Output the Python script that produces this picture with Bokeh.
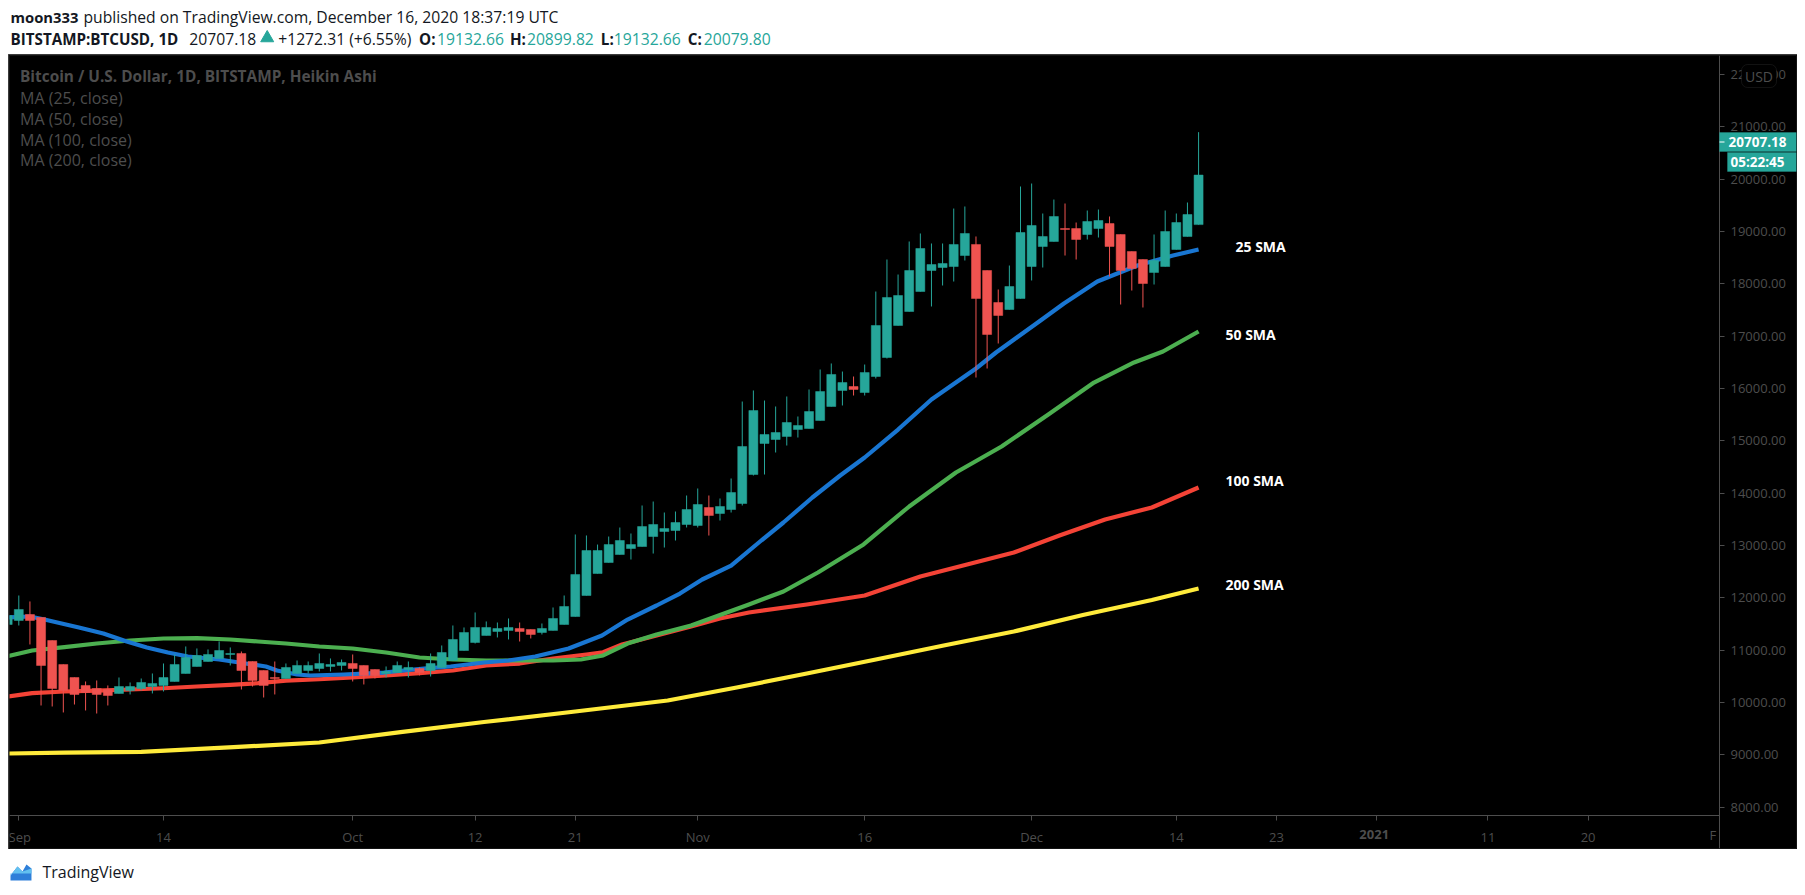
from bokeh.plotting import figure
from bokeh.layouts import column
from bokeh.models import (Range1d, FixedTicker, Label, BoxAnnotation)
from bokeh.core.properties import value
from bokeh.embed import file_html
from bokeh.resources import INLINE

# ---- OHLC (Heikin Ashi) for BTCUSD, bar index 0 = 1 Sep 2020
bar_index = list(range(-1, 107))
open_ = [11491,11568,11682,11625,11185,10727,10478,10326,10268,10249,10173,10230,10268,10306,10326,10402,10555,10689,10784,10842,10918,10937,10784,10612,10478,10459,10555,10612,10650,10689,10708,10746,10708,10631,10555,10574,10631,10650,10612,10670,10803,10994,11147,11281,11357,11377,11415,11396,11338,11377,11491,11643,12045,12465,12675,12828,12943,12981,13172,13268,13287,13402,13383,13727,13612,13688,13803,14357,14950,15026,15084,15217,15236,15389,15657,15963,16039,15924,16230,16593,17205,17472,17854,18256,18313,18332,18542,18753,18256,17644,17510,17721,18332,18714,18810,19058,19058,18944,19058,19154,18944,18619,18466,18218,18332,18657,18905,19132.66]
high = [11663,12045,11931,11631,11185,10727,10478,10402,10421,10326,10478,10383,10459,10555,10746,10918,11071,11033,11014,11166,11052,10975,10784,10612,10784,10746,10803,10784,10937,10842,10822,10918,10708,10631,10689,10784,10784,10670,10937,11090,11472,11434,11721,11549,11529,11606,11529,11396,11510,11816,12045,13211,13192,13019,13172,13344,13230,13765,13841,13631,13650,13956,14090,13956,13899,14281,15752,15963,15771,15657,15848,15466,15982,16364,16479,16325,16230,16459,17854,18466,18179,18810,18963,18772,18772,19440,19479,18906,18256,17893,18351,19861,19918,19345,19612,19536,19173,19402,19421,19288,18944,18619,18466,18944,19402,19345,19555,20899.82]
low = [11491,11472,11109,9943,9924,9810,9962,9848,9790,9943,10173,10154,10230,10173,10211,10402,10555,10689,10784,10842,10708,10249,10306,10096,10154,10459,10555,10555,10593,10593,10612,10402,10345,10459,10478,10574,10478,10517,10497,10670,10803,10994,11128,11281,11243,11205,11166,11224,11300,11377,11491,11643,12045,12465,12675,12828,12733,12981,12847,12962,13096,13345,13345,13191,13478,13631,13765,14338,14357,14778,14911,15064,15236,15389,15657,15676,15867,15867,16192,16574,17205,17472,17854,17568,17969,18045,18447,16211,16383,16861,17510,17721,18065,18313,18810,18542,18466,18848,18886,18141,17606,17873,17549,17988,18332,18657,18905,19132.66]
close = [11663,11778,11568,10708,10268,10230,10154,10192,10154,10134,10306,10306,10383,10364,10478,10727,10861,10899,10918,10994,10937,10612,10421,10326,10459,10670,10708,10708,10746,10727,10765,10650,10517,10517,10593,10708,10670,10574,10746,10956,11205,11338,11434,11434,11415,11434,11357,11300,11415,11606,11835,12446,12905,12905,13019,13096,13019,13363,13402,13325,13440,13688,13784,13574,13746,14013,14892,15580,15122,15160,15351,15294,15561,15943,16269,16115,15982,16306,17205,17740,17778,18256,18676,18370,18390,18753,18963,17721,17033,17396,17950,18982,19116,18905,19288,19039,18848,19192,19211,18714,18256,18294,18007,18447,19001,19173,19326,20079.80]

# ---- Moving averages, read at the listed bar positions
ma25_x = [-1,1,2.3,5.4,7.6,9.7,11.5,13.4,15.2,18,19.8,22.2,23.2,25,26.2,29.2,32.8,36.4,38.8,41.8,44,46.4,49.4,52.4,54.7,57.3,59.4,61.4,64,66.6,68.7,71.3,73.8,76,79,82,86,87.8,89.3,91.8,93.9,96.9,100.5,103.7,106]
ma25_y = [11625,11644,11586,11433,11319,11166,11051,10956,10879,10822,10765,10688,10612,10535,10516,10535,10573,10650,10688,10765,10803,10879,11032,11281,11586,11854,12083,12351,12618,13077,13440,13918,14338,14682,15217,15791,16383,16689,16918,17300,17625,18045,18351,18542,18657]
ma50_x = [-1,1.2,4.1,7,10,13,16,19,21.5,24,27,30,33,36,39,42,45,48,50.5,52.5,54.7,57.3,60.4,63,65.6,68.7,71.8,75.9,80,84.2,88.3,92.5,96.6,100.2,102.8,106]
ma50_y = [10885,10994,11057,11128,11185,11223,11229,11204,11166,11128,11070,11032,10956,10860,10822,10803,10803,10803,10822,10899,11127,11300,11471,11672,11873,12122,12485,13020,13746,14396,14892,15504,16115,16498,16708,17090]
ma100_x = [-1,1.2,4.1,7,10,13,16,19,21.5,24,27,30,33,36,39,42,45,48,51,52.5,54.2,57.3,60.4,63,65.6,70.8,76,81,85.2,89.4,93.5,97.6,101.8,106]
ma100_y = [10115,10178,10210,10229,10249,10273,10306,10338,10369,10420,10445,10478,10516,10560,10612,10707,10745,10841,10918,10961,11108,11280,11452,11605,11720,11873,12045,12408,12638,12867,13192,13497,13727,14109]
ma200_x = [-1,4.1,11,19.3,27,34.3,41.8,50,58.3,64.5,70.8,77,83.1,89.4,95.6,101.8,106]
ma200_y = [9025,9044,9058,9146,9236,9433,9627,9828,10038,10287,10554,10822,11089,11357,11672,11959,12179]

# ---- Tick labels and texts
price_ticks = [8000,9000,10000,11000,12000,13000,14000,15000,16000,17000,18000,19000,20000,21000,22000]
date_ticks = {0:"Sep",13:"14",30:"Oct",41:"12",50:"21",61:"Nov",76:"16",91:"Dec",104:"14",113:"23",122:" ",132:"11",141:"20"}
legend_lines = ["MA (25, close)","MA (50, close)","MA (100, close)","MA (200, close)"]
sma_names = ["25 SMA","50 SMA","100 SMA","200 SMA"]

FONT = "Open Sans"
TEAL, RED = "#26a69a", "#ef5350"
DIM = "#4d4d4d"
W = 1789

# pixel (page) <-> data helpers, used only to place annotations
def xd(px): return (px - 18.3) / 11.13
def yd(py): return 23415.5 - 19.11 * py

# ---------- header
head = figure(width=W, height=54, output_backend="svg", toolbar_location=None,
              x_range=Range1d(8, 8 + W), y_range=Range1d(54, 0),
              min_border=0, outline_line_color=None, background_fill_color="white",
              border_fill_color="white")
head.axis.visible = False
head.grid.visible = False
def htext(x, y, s, bold=False, color="#131722", size="15.7px"):
    head.text([x], [y], text=[s], text_font=value(FONT), text_font_size=size,
              text_font_style="bold" if bold else "normal", text_color=color,
              text_baseline="middle", text_align="left")
htext(9, 16.5, "moon333", True, size="14.8px")
htext(82, 16.5, "published on TradingView.com, December 16, 2020 18:37:19 UTC")
htext(9, 38.5, "BITSTAMP:BTCUSD, 1D", True, size="15.2px")
htext(188, 38.5, "20707.18")
head.scatter([266], [37.5], marker="triangle", size=13, color=TEAL)
htext(277, 38.5, "+1272.31 (+6.55%)")
htext(418, 38.5, "O:", True, size="15.2px")
htext(436, 38.5, "19132.66", color=TEAL)
htext(509, 38.5, "H:", True, size="15.2px")
htext(526, 38.5, "20899.82", color=TEAL)
htext(600, 38.5, "L:", True, size="15.2px")
htext(613, 38.5, "19132.66", color=TEAL)
htext(687, 38.5, "C:", True, size="15.2px")
htext(703, 38.5, "20079.80", color=TEAL)

# ---------- chart: the frame fills the black pane, the axes sit at fixed places inside it
p = figure(width=W, height=795, output_backend="svg", toolbar_location=None,
           x_range=Range1d(xd(9), xd(1796)), y_range=Range1d(yd(848), yd(55)),
           min_border_left=1, min_border_right=1, min_border_top=1, min_border_bottom=1,
           background_fill_color="black", border_fill_color="black",
           outline_line_color=None, x_axis_location="below", y_axis_location="right")
p.grid.visible = False
p.styles = {"outline": "2px solid #4f4f4f", "outline-offset": "-2px"}

yaxis = p.yaxis[0]
yaxis.ticker = FixedTicker(ticks=price_ticks)
yaxis.major_label_overrides = {t: f"{t}.00" for t in price_ticks}
yaxis.fixed_location = xd(1719)
yaxis.bounds = (yd(848), yd(55))
xaxis = p.xaxis[0]
xaxis.ticker = FixedTicker(ticks=list(date_ticks))
xaxis.major_label_overrides = dict(date_ticks)
xaxis.fixed_location = yd(815)
xaxis.bounds = (xd(9), xd(1719))
for ax in (xaxis, yaxis):
    ax.axis_line_color = DIM
    ax.major_tick_line_color = DIM
    ax.major_tick_in = 0
    ax.major_tick_out = 5
    ax.minor_tick_line_color = None
    ax.major_label_text_color = DIM
    ax.major_label_text_font = FONT
    ax.major_label_text_font_size = "13px"
xaxis.major_label_standoff = 7
yaxis.major_label_standoff = 6

for xs, ys, col in ((ma200_x, ma200_y, "#ffeb3b"), (ma100_x, ma100_y, "#f44336"),
                    (ma50_x, ma50_y, "#4caf50"), (ma25_x, ma25_y, "#1976d2")):
    p.line(xs, ys, line_color=col, line_width=4.2, line_join="round")

colors = [TEAL if c >= o else RED for o, c in zip(open_, close)]
p.segment(bar_index, high, bar_index, low, line_color=colors, line_width=1)
p.vbar(x=bar_index, width=0.81, top=[max(o, c) for o, c in zip(open_, close)],
       bottom=[min(o, c) for o, c in zip(open_, close)], fill_color=colors, line_color=colors, line_width=0.5)

# pane legend
p.text([xd(19.5)], [yd(76)], text=["Bitcoin / U.S. Dollar, 1D, BITSTAMP, Heikin Ashi"], text_font=value(FONT),
       text_font_size="15.4px", text_font_style="bold", text_color=DIM, text_baseline="middle")
p.text([xd(19.5)] * 4, [yd(97), yd(118), yd(139), yd(159)], text=legend_lines, text_font=value(FONT),
       text_font_size="16px", text_color=DIM, text_baseline="middle")

# SMA annotations
p.text([xd(1235), xd(1225), xd(1225), xd(1225)], [yd(246), yd(334), yd(480), yd(584)], text=sma_names,
       text_font=value(FONT), text_font_size="14px", text_font_style="bold", text_color="white",
       text_baseline="middle")

# labels over the axes
p.add_layout(Label(x=xd(1373.7), y=yd(834), text="2021", text_font=FONT, text_font_size="13px",
                   text_font_style="bold", text_color=DIM, text_align="center", text_baseline="middle"))
p.add_layout(Label(x=xd(1709), y=yd(834), text="F", text_font=FONT, text_font_size="13px",
                   text_color=DIM, text_align="left", text_baseline="middle"))
p.add_layout(BoxAnnotation(left=xd(1741), right=xd(1776), top=yd(64), bottom=yd(87), fill_color="black",
                           fill_alpha=1, line_color="#3c3c3c", line_width=1, border_radius=6))
p.add_layout(Label(x=xd(1758.5), y=yd(75.5), text="USD", text_font=FONT, text_font_size="14px",
                   text_color=DIM, text_align="center", text_baseline="middle"))
p.add_layout(BoxAnnotation(left=xd(1719), right=xd(1796), top=yd(132), bottom=yd(151), fill_color=TEAL,
                           fill_alpha=1, line_color=TEAL))
p.add_layout(BoxAnnotation(left=xd(1719), right=xd(1724), top=yd(141), bottom=yd(142), fill_color="white",
                           fill_alpha=1, line_color=None))
p.add_layout(Label(x=xd(1757), y=yd(141.5), text="20707.18", text_font=FONT, text_font_size="13.5px",
                   text_font_style="bold", text_color="white", text_align="center", text_baseline="middle"))
p.add_layout(BoxAnnotation(left=xd(1727), right=xd(1796), top=yd(152), bottom=yd(171), fill_color=TEAL,
                           fill_alpha=1, line_color=TEAL))
p.add_layout(Label(x=xd(1757), y=yd(161.5), text="05:22:45", text_font=FONT, text_font_size="13.5px",
                   text_font_style="bold", text_color="white", text_align="center", text_baseline="middle"))

# ---------- footer
foot = figure(width=W, height=38, output_backend="svg", toolbar_location=None,
              x_range=Range1d(8, 8 + W), y_range=Range1d(887, 849),
              min_border=0, outline_line_color=None, background_fill_color="white",
              border_fill_color="white")
foot.axis.visible = False
foot.grid.visible = False
foot.patch([9, 16, 21, 25, 30, 30, 9], [875, 866, 871, 864, 868, 880, 880], fill_color="#2e7fd9", line_color=None)
foot.patch([9, 16, 21, 30, 30, 9], [875, 866, 871, 868, 873, 873], fill_color="#62c0f0", line_color=None)
foot.text([41], [871], text=["TradingView"], text_font=value(FONT), text_font_size="16px",
          text_color="#131722", text_baseline="middle")

root = column(head, p, foot, spacing=0, margin=(0, 0, 0, 8))
open("out.html", "w").write(file_html(root, INLINE))
